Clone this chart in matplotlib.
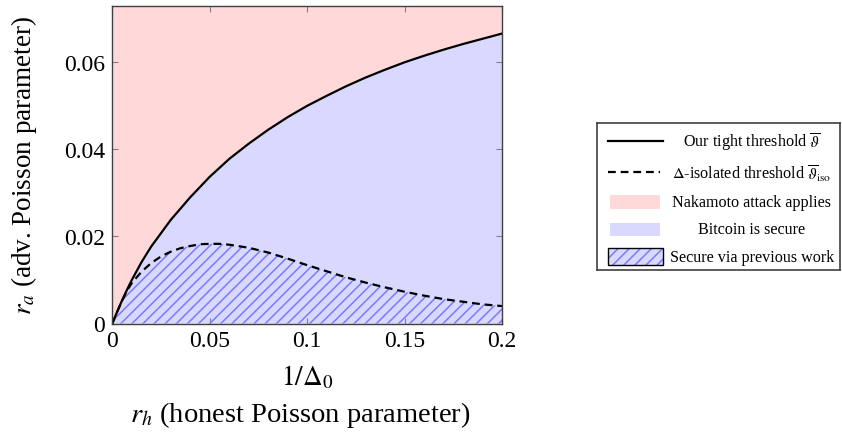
import matplotlib
matplotlib.use("Agg")
import matplotlib.pyplot as plt
from matplotlib.patches import Rectangle
from matplotlib.lines import Line2D

# ---- data ----
x_tight = [0, 0.0025, 0.005, 0.0075, 0.01, 0.015, 0.02, 0.03, 0.04, 0.05, 0.06, 0.07,
           0.08, 0.09, 0.1, 0.11, 0.12, 0.13, 0.14, 0.15, 0.16, 0.17, 0.18, 0.19, 0.2]
y_tight = [0, 0.0027, 0.0053, 0.0077, 0.0100, 0.0141, 0.0177, 0.0238, 0.0290, 0.0337,
           0.0378, 0.0413, 0.0445, 0.0474, 0.0500, 0.0523, 0.0545, 0.0565, 0.0583,
           0.0600, 0.0615, 0.0629, 0.0642, 0.0654, 0.0666]

x_iso = [0, 0.0025, 0.005, 0.0075, 0.01, 0.015, 0.02, 0.025, 0.03, 0.035, 0.04, 0.045,
         0.05, 0.055, 0.06, 0.07, 0.08, 0.09, 0.1, 0.11, 0.12, 0.13, 0.14, 0.15, 0.16,
         0.17, 0.18, 0.19, 0.2]
y_iso = [0, 0.0027, 0.0052, 0.0075, 0.0093, 0.0119, 0.0139, 0.0154, 0.0165, 0.0173,
         0.0178, 0.0182, 0.0183, 0.0183, 0.0181, 0.0174, 0.0163, 0.0149, 0.0134, 0.0120,
         0.0106, 0.0094, 0.0083, 0.0073, 0.0064, 0.0056, 0.0050, 0.0044, 0.0040]

x_ticks = [0, 0.05, 0.1, 0.15, 0.2]
x_ticklabels = ["0", "0.05", "0.1", "0.15", "0.2"]
y_ticks = [0, 0.02, 0.04, 0.06]
y_ticklabels = ["0", "0.02", "0.04", "0.06"]

legend_labels = [r"Our tight threshold $\overline{\vartheta}$",
                 r"$\Delta$-isolated threshold $\overline{\vartheta}_{\mathrm{iso}}$",
                 "Nakamoto attack applies",
                 "Bitcoin is secure",
                 "Secure via previous work"]

PINK = "#FFD9D9"
BLUE = "#D9D9FF"
HATCH = "#7A7AFF"

plt.rcParams["font.family"] = ["Liberation Serif", "DejaVu Serif"]
plt.rcParams["mathtext.fontset"] = "stix"
plt.rcParams["hatch.linewidth"] = 1.1

W, H = 842, 439
fig = plt.figure(figsize=(W / 100, H / 100), dpi=100)
ax = fig.add_axes([112.3 / W, 1 - 324.5 / H, (502 - 112.3) / W, (324.5 - 6.7) / H])

ax.set_facecolor(PINK)
ax.fill_between(x_tight, 0, y_tight, facecolor=BLUE, linewidth=0, zorder=1)
ax.fill_between(x_iso, 0, y_iso, facecolor="none", edgecolor=HATCH, hatch="///",
                linewidth=0, zorder=2)
ax.plot(x_tight, y_tight, color="black", lw=1.6, zorder=4, solid_joinstyle="round")
ax.plot(x_iso, y_iso, color="black", lw=1.6, dashes=(3.5, 2.2), zorder=4)

ax.set_xlim(0, 0.2)
ax.set_ylim(0, 0.073)
ax.set_xticks(x_ticks)
ax.set_xticklabels(x_ticklabels)
ax.set_yticks(y_ticks)
ax.set_yticklabels(y_ticklabels)
ax.tick_params(direction="in", length=4.5, width=0.8, color="#808080",
               top=True, right=True, labelsize=17, pad=5)
for s in ax.spines.values():
    s.set_color("#404040")
    s.set_linewidth(1.0)
    s.set_zorder(5)

ax.text(-0.226, 0.5, r"$r_a$ (adv. Poisson parameter)", transform=ax.transAxes,
        rotation=90, ha="center", va="center", fontsize=19.5)
ax.text(0.5, -0.168, r"$1/\Delta_0$", transform=ax.transAxes, ha="center",
        va="center", fontsize=19.5)
ax.text(0.482, -0.285, r"$r_h$ (honest Poisson parameter)", transform=ax.transAxes,
        ha="center", va="center", fontsize=20.5)

# ---- legend drawn in its own pixel-coordinate box ----
lx0, lx1, ly0, ly1 = 597, 840, 124, 271
lax = fig.add_axes([lx0 / W, 1 - ly1 / H, (lx1 - lx0) / W, (ly1 - ly0) / H])
lax.set_xlim(lx0, lx1)
lax.set_ylim(ly1, ly0)
lax.set_xticks([])
lax.set_yticks([])
for s in lax.spines.values():
    s.set_color("#404040")
    s.set_linewidth(1.2)

rows_y = [141.7, 173.3, 203.3, 230.5, 257.5]
text_cx = 752
fs_leg = 11.6
lax.add_line(Line2D([608, 663], [rows_y[0]] * 2, color="black", lw=1.6))
lax.add_line(Line2D([608, 660], [rows_y[1]] * 2, color="black", lw=1.6,
                    dashes=(3.5, 2.2)))
lax.add_patch(Rectangle((610, rows_y[2] - 7), 50, 14, facecolor=PINK, lw=0))
lax.add_patch(Rectangle((610, rows_y[3] - 6.5), 50, 13, facecolor=BLUE, lw=0))
lax.add_patch(Rectangle((608, rows_y[4] - 8.5), 55, 17, facecolor=BLUE, lw=0))
lax.add_patch(Rectangle((608, rows_y[4] - 8.5), 55, 17, facecolor="none",
                        edgecolor=HATCH, hatch="///", lw=0))
lax.add_patch(Rectangle((608, rows_y[4] - 8.5), 55, 17, facecolor="none",
                        edgecolor="black", lw=1.0))
for yv, lab in zip(rows_y, legend_labels):
    lax.text(text_cx, yv, lab, ha="center", va="center", fontsize=fs_leg)

fig.savefig("out.png", dpi=100)
